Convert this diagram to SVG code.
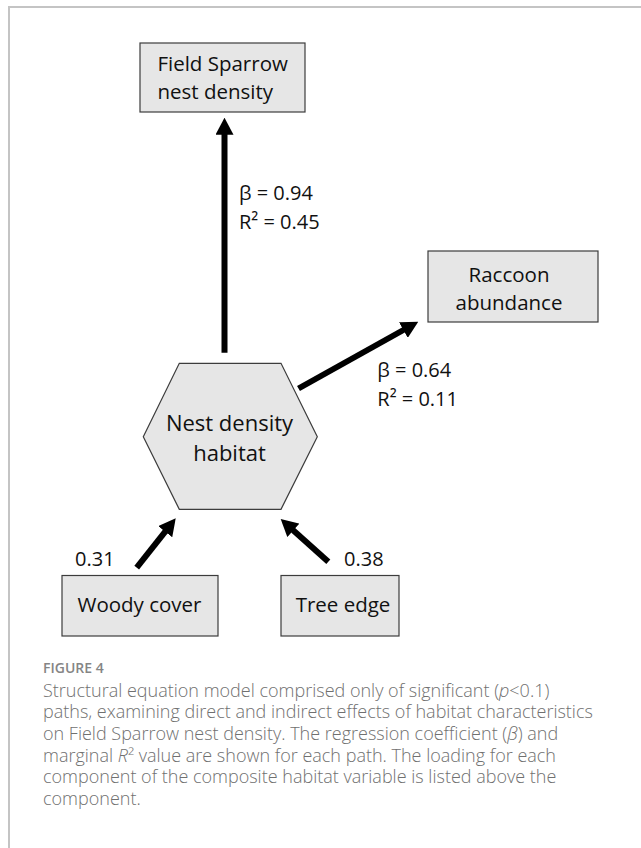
<svg xmlns="http://www.w3.org/2000/svg" width="641" height="848" viewBox="0 0 641 848">
  <style>
    .box { fill: #e6e6e6; stroke: #3c3c3c; stroke-width: 1.2; }
    .lbl { font-family: "Open Sans", "Noto Sans", "Liberation Sans", sans-serif; font-size: 20.5px; fill: #111111; }
    .hexlbl { font-family: "Open Sans", "Noto Sans", "Liberation Sans", sans-serif; font-size: 22px; fill: #111111; }
    .num { font-family: "Open Sans", "Noto Sans", "Liberation Sans", sans-serif; font-size: 20px; fill: #111111; }
    .edge { stroke: #000000; stroke-width: 6; fill: none; marker-end: url(#head); }
    .fig { font-family: "Open Sans", "Noto Sans", "Liberation Sans", sans-serif; font-size: 14px; font-weight: 600; fill: #858585; }
    .cap { font-family: "Open Sans", "Noto Sans", "Liberation Sans", sans-serif; font-size: 18px; font-weight: 300; fill: #707070; }
  </style>
  <defs>
    <marker id="head" markerUnits="userSpaceOnUse" markerWidth="17" markerHeight="18" viewBox="0 0 17 18" refX="1" refY="9" orient="auto">
      <path d="M0,0 L17,9 L0,18 z" fill="#000000"/>
    </marker>
  </defs>

  <rect x="0" y="0" width="641" height="848" fill="#ffffff"/>
  <path d="M9,848 V7 H641" fill="none" stroke="#c4c4c4" stroke-width="2"/>

  <g id="connectors">
    <line class="edge" x1="224.5" y1="352.7" x2="224.5" y2="133.7"/>
    <line class="edge" x1="298.5" y1="388.5" x2="404.3" y2="329.5"/>
    <line class="edge" x1="136.7" y1="567.7" x2="165.8" y2="530.9"/>
    <line class="edge" x1="328.3" y1="561.7" x2="292.6" y2="529.7"/>
  </g>

  <g id="edge-labels">
    <text class="num" x="239" y="200">β = 0.94</text>
    <text class="num" x="239" y="228.7">R² = 0.45</text>
    <text class="num" x="377.3" y="377.3">β = 0.64</text>
    <text class="num" x="377.3" y="405.7">R² = 0.11</text>
    <text class="num" x="75" y="565.7">0.31</text>
    <text class="num" x="344" y="565.7">0.38</text>
  </g>

  <g id="field-sparrow">
    <rect class="box" x="140" y="43" width="165" height="69"/>
    <text class="lbl" x="157.4" y="71">Field Sparrow</text>
    <text class="lbl" x="157.4" y="99">nest density</text>
  </g>

  <g id="raccoon">
    <rect class="box" x="428" y="251" width="170" height="71"/>
    <text class="lbl" x="509" y="282" text-anchor="middle">Raccoon</text>
    <text class="lbl" x="509" y="310" text-anchor="middle">abundance</text>
  </g>

  <g id="nest-habitat">
    <polygon class="box" points="179.3,363.3 281,363.3 317.3,436.7 281,509.3 179.3,509.3 143.3,436.7"/>
    <text class="hexlbl" x="229.5" y="430.7" text-anchor="middle">Nest density</text>
    <text class="hexlbl" x="229.5" y="461" text-anchor="middle">habitat</text>
  </g>

  <g id="woody-cover">
    <rect class="box" x="62" y="575.5" width="156" height="60.5"/>
    <text class="lbl" x="139.5" y="611.7" text-anchor="middle">Woody cover</text>
  </g>

  <g id="tree-edge">
    <rect class="box" x="281" y="575.5" width="118" height="60.5"/>
    <text class="lbl" x="343" y="611.7" text-anchor="middle">Tree edge</text>
  </g>

  <g id="caption">
    <text class="fig" x="43" y="673.3">FIGURE 4</text>
    <text class="cap" x="43" y="696.5">Structural equation model comprised only of significant (<tspan font-style="italic">p</tspan>&lt;0.1)</text>
    <text class="cap" x="43" y="718.2">paths, examining direct and indirect effects of habitat characteristics</text>
    <text class="cap" x="43" y="739.9">on Field Sparrow nest density. The regression coefficient (<tspan font-style="italic">β</tspan>) and</text>
    <text class="cap" x="43" y="761.6">marginal <tspan font-style="italic">R</tspan>² value are shown for each path. The loading for each</text>
    <text class="cap" x="43" y="783.3">component of the composite habitat variable is listed above the</text>
    <text class="cap" x="43" y="805">component.</text>
  </g>
</svg>
